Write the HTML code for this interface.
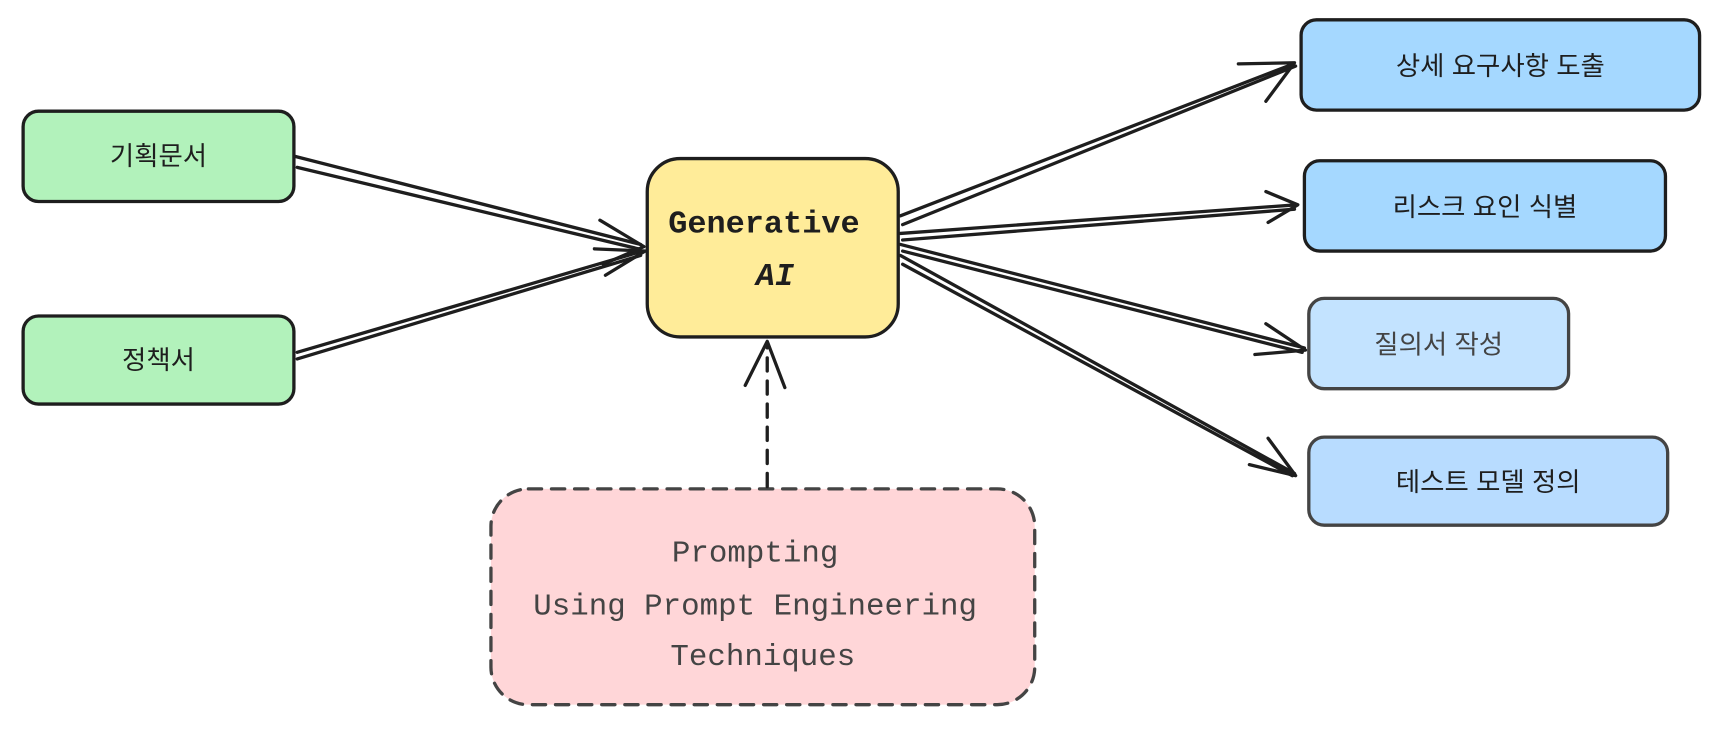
<!DOCTYPE html>
<html><head><meta charset="utf-8">
<style>
html,body{margin:0;padding:0;background:#fff;}
svg{display:block;}
.ko{font-family:"Liberation Sans","Noto Sans CJK KR",sans-serif;font-size:24px;fill:#1e1e1e;}
.hand{font-family:"Liberation Mono","DejaVu Sans Mono",monospace;}
</style></head>
<body>
<svg width="1726" height="730" viewBox="0 0 1568 663" preserveAspectRatio="none" xmlns="http://www.w3.org/2000/svg">
<g stroke="#1e1e1e" stroke-width="3" fill="none" stroke-linecap="round" stroke-linejoin="round">
  <rect x="21" y="101" width="246" height="82" rx="14" fill="#b2f2bb"/>
  <rect x="21" y="287" width="246" height="80" rx="14" fill="#b2f2bb"/>
  <rect x="588" y="144" width="228" height="162" rx="30" fill="#ffec99"/>
  <rect x="1182" y="18" width="362" height="82" rx="14" fill="#a5d8ff"/>
  <rect x="1185" y="146" width="328" height="82" rx="14" fill="#a5d8ff"/>
  <rect x="1189" y="271" width="236" height="82" rx="14" fill="#c3e3ff" stroke="#444"/>
  <rect x="1189" y="397" width="326" height="80" rx="14" fill="#b8dcff" stroke="#444"/>
  <rect x="446" y="444" width="494" height="196" rx="34" fill="#ffd6d8" stroke="#444" stroke-dasharray="12 9"/>
  <path d="M268 142 L582 222 M270 152 L580 226"/>
  <path d="M545 200 L585 224 L548 240"/>
  <path d="M270 320 L584 228 M270 326 L582 232"/>
  <path d="M540 226 L586 228 L550 250"/>
  <path d="M818 196 L1175 58 M820 204 L1177 60"/>
  <path d="M1125 58 L1176 57 L1150 92"/>
  <path d="M818 212 L1178 186 M820 218 L1176 190"/>
  <path d="M1150 174 L1179 186 L1152 202"/>
  <path d="M818 222 L1185 316 M820 228 L1183 320"/>
  <path d="M1150 294 L1186 318 L1140 322"/>
  <path d="M818 232 L1176 430 M820 240 L1174 432"/>
  <path d="M1152 398 L1177 432 L1135 422"/>
  <path d="M697 442 L697 312" stroke-dasharray="12 9"/>
  <path d="M677 350 L697 310 L713 352"/>
</g>
<text class="ko" x="144" y="150" text-anchor="middle">기획문서</text>
<text class="ko" x="144" y="335" text-anchor="middle">정책서</text>
<text class="hand" x="694" y="211" text-anchor="middle" font-size="29" font-weight="bold" fill="#1e1e1e">Generative</text>
<text class="hand" x="704" y="259" text-anchor="middle" font-size="29" font-weight="bold" font-style="italic" fill="#1e1e1e">AI</text>
<text class="hand" x="686" y="510" text-anchor="middle" font-size="28" fill="#444">Prompting</text>
<text class="hand" x="686" y="558" text-anchor="middle" font-size="28" fill="#444">Using Prompt Engineering</text>
<text class="hand" x="693" y="604" text-anchor="middle" font-size="28" fill="#444">Techniques</text>
<text class="ko" x="1363" y="68" text-anchor="middle">상세 요구사항 도출</text>
<text class="ko" x="1349" y="196" text-anchor="middle">리스크 요인 식별</text>
<text class="ko" x="1307" y="321" text-anchor="middle" style="fill:#444">질의서 작성</text>
<text class="ko" x="1352" y="446" text-anchor="middle">테스트 모델 정의</text>
</svg>
</body></html>
